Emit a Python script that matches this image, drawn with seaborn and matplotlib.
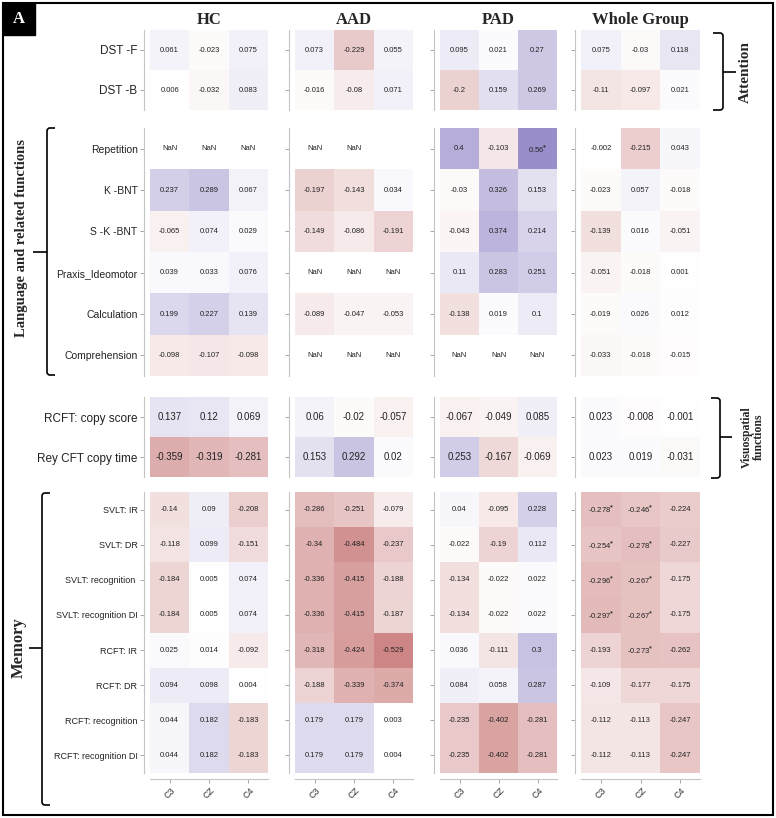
import numpy as np
import pandas as pd
import matplotlib
matplotlib.use("Agg")
import matplotlib.pyplot as plt
import seaborn as sns
from matplotlib.colors import LinearSegmentedColormap
from matplotlib.path import Path
from matplotlib.patches import PathPatch, Rectangle

nan = np.nan

panels = ["HC", "AAD", "PAD", "Whole Group"]
electrodes = ["C3", "CZ", "C4"]

# --- Attention ---
attention_rows = ["DST -F", "DST -B"]
attention_hc = [[0.061, -0.023, 0.075], [0.006, -0.032, 0.083]]
attention_aad = [[0.073, -0.229, 0.055], [-0.016, -0.08, 0.071]]
attention_pad = [[0.095, 0.021, 0.27], [-0.2, 0.159, 0.269]]
attention_wg = [[0.075, -0.03, 0.118], [-0.11, -0.097, 0.021]]

# --- Language and related functions ---
language_rows = ["Repetition", "K -BNT", "S -K -BNT", "Praxis_Ideomotor",
                 "Calculation", "Comprehension"]
language_hc = [[nan, nan, nan], [0.237, 0.289, 0.067], [-0.065, 0.074, 0.029],
               [0.039, 0.033, 0.076], [0.199, 0.227, 0.139], [-0.098, -0.107, -0.098]]
language_aad = [[nan, nan, nan], [-0.197, -0.143, 0.034], [-0.149, -0.086, -0.191],
                [nan, nan, nan], [-0.089, -0.047, -0.053], [nan, nan, nan]]
language_pad = [[0.4, -0.103, 0.56], [-0.03, 0.326, 0.153], [-0.043, 0.374, 0.214],
                [0.11, 0.283, 0.251], [-0.138, 0.019, 0.1], [nan, nan, nan]]
language_wg = [[-0.002, -0.215, 0.043], [-0.023, 0.057, -0.018], [-0.139, 0.016, -0.051],
               [-0.051, -0.018, 0.001], [-0.019, 0.026, 0.012], [-0.033, -0.018, -0.015]]

# --- Visuospatial functions ---
visuo_rows = ["RCFT: copy score", "Rey CFT copy time"]
visuo_hc = [[0.137, 0.12, 0.069], [-0.359, -0.319, -0.281]]
visuo_aad = [[0.06, -0.02, -0.057], [0.153, 0.292, 0.02]]
visuo_pad = [[-0.067, -0.049, 0.085], [0.253, -0.167, -0.069]]
visuo_wg = [[0.023, -0.008, -0.001], [0.023, 0.019, -0.031]]

# --- Memory ---
memory_rows = ["SVLT: IR", "SVLT: DR", "SVLT: recognition ", "SVLT: recognition DI",
               "RCFT: IR", "RCFT: DR", "RCFT: recognition", "RCFT: recognition DI"]
memory_hc = [[-0.14, 0.09, -0.208], [-0.118, 0.099, -0.151], [-0.184, 0.005, 0.074],
             [-0.184, 0.005, 0.074], [0.025, 0.014, -0.092], [0.094, 0.098, 0.004],
             [0.044, 0.182, -0.183], [0.044, 0.182, -0.183]]
memory_aad = [[-0.286, -0.251, -0.079], [-0.34, -0.484, -0.237], [-0.336, -0.415, -0.188],
              [-0.336, -0.415, -0.187], [-0.318, -0.424, -0.529], [-0.188, -0.339, -0.374],
              [0.179, 0.179, 0.003], [0.179, 0.179, 0.004]]
memory_pad = [[0.04, -0.095, 0.228], [-0.022, -0.19, 0.112], [-0.134, -0.022, 0.022],
              [-0.134, -0.022, 0.022], [0.036, -0.111, 0.3], [0.084, 0.058, 0.287],
              [-0.235, -0.402, -0.281], [-0.235, -0.402, -0.281]]
memory_wg = [[-0.278, -0.246, -0.224], [-0.254, -0.278, -0.227], [-0.296, -0.267, -0.175],
             [-0.297, -0.267, -0.175], [-0.193, -0.273, -0.262], [-0.109, -0.177, -0.175],
             [-0.112, -0.113, -0.247], [-0.112, -0.113, -0.247]]

# significant cells (row, col) and cells left blank
stars_pad_language = [(0, 2)]
stars_wg_memory = [(0, 0), (0, 1), (1, 0), (1, 1), (2, 0), (2, 1), (3, 0), (3, 1), (4, 1)]
blank_aad_language = [(0, 2)]

# ------------------------------------------------------------------
W, H = 776, 818
sns.set_style("white")
plt.rcParams["font.family"] = ["Liberation Sans", "DejaVu Sans"]
plt.rcParams["mathtext.default"] = "regular"
SERIF = ["Liberation Serif", "DejaVu Serif"]

fig = plt.figure(figsize=(W / 100, H / 100), dpi=100)
cmap = LinearSegmentedColormap.from_list("rp", ["#a01a18", "#ffffff", "#4a35a0"])


def px_axes(x0, y0, x1, y1):
    return fig.add_axes([x0 / W, 1 - y1 / H, (x1 - x0) / W, (y1 - y0) / H])


panel_x = [(150, 268), (295, 413), (440, 557), (581, 700)]

groups = [
    dict(rows=attention_rows, data=[attention_hc, attention_aad, attention_pad, attention_wg],
         y=(30, 110), lab=8.5, ann=5.5, stars={}, blank={}, xlab=False),
    dict(rows=language_rows, data=[language_hc, language_aad, language_pad, language_wg],
         y=(128, 376), lab=7.5, ann=5.5, stars={2: stars_pad_language},
         blank={1: blank_aad_language}, xlab=False),
    dict(rows=visuo_rows, data=[visuo_hc, visuo_aad, visuo_pad, visuo_wg],
         y=(397, 477), lab=8.5, ann=7, stars={}, blank={}, xlab=False),
    dict(rows=memory_rows, data=[memory_hc, memory_aad, memory_pad, memory_wg],
         y=(492, 773), lab=6.5, ann=5.5, stars={3: stars_wg_memory}, blank={}, xlab=True),
]

for g in groups:
    for p, vals in enumerate(g["data"]):
        df = pd.DataFrame(vals, index=g["rows"], columns=electrodes)
        star_cells = set(g["stars"].get(p, []))
        labels = np.array([[("%g" % v) + (r"$^{\mathbf{*}}$" if (i, j) in star_cells else "")
                            for j, v in enumerate(row)] for i, row in enumerate(vals)])
        x0, x1 = panel_x[p]
        ax = px_axes(x0, g["y"][0], x1, g["y"][1])
        sns.heatmap(df, ax=ax, cmap=cmap, vmin=-1, vmax=1, cbar=False,
                    annot=labels, fmt="",
                    annot_kws=dict(fontsize=g["ann"], color="#222222"))
        blanks = set(g["blank"].get(p, []))
        for i, row in enumerate(vals):
            for j, v in enumerate(row):
                if np.isnan(v) and (i, j) not in blanks:
                    ax.text(j + 0.5, i + 0.5, "NaN", ha="center", va="center",
                            fontsize=g["ann"], color="#222222")
        ax.spines["left"].set_visible(True)
        ax.spines["left"].set_position(("outward", 4))
        ax.spines["left"].set_color("#c4c4c4")
        ax.spines["left"].set_linewidth(0.8)
        ax.tick_params(axis="y", left=True, length=3, width=0.6, color="#999999", pad=2)
        if p == 0:
            ax.set_yticklabels(g["rows"], rotation=0, fontsize=g["lab"], color="#222222")
        else:
            ax.set_yticklabels([])
        if g["xlab"]:
            ax.spines["bottom"].set_visible(True)
            ax.spines["bottom"].set_position(("outward", 4))
            ax.spines["bottom"].set_color("#c4c4c4")
            ax.spines["bottom"].set_linewidth(0.8)
            ax.tick_params(axis="x", bottom=True, length=3, width=0.6, color="#999999", pad=2)
            ax.set_xticklabels(electrodes, rotation=45, fontsize=6.5, color="#333333")
        else:
            ax.set_xticks([])
        ax.set_xlabel("")
        ax.set_ylabel("")

# panel titles
for p, name in enumerate(panels):
    xc = sum(panel_x[p]) / 2
    fig.text(xc / W, 1 - 20 / H, name, ha="center", va="center",
             fontsize=12, fontweight="bold", family=SERIF)


def brace(x, y0, y1, d, ym=None, hook=8, tip=10, r=3):
    ym = (y0 + y1) / 2 if ym is None else ym
    P = lambda a, b: (a / W, 1 - b / H)
    verts = [P(x - d * hook, y0), P(x - d * r, y0), P(x, y0), P(x, y0 + r),
             P(x, y1 - r), P(x, y1), P(x - d * r, y1), P(x - d * hook, y1),
             P(x, ym), P(x + d * tip, ym)]
    codes = [Path.MOVETO, Path.LINETO, Path.CURVE3, Path.CURVE3,
             Path.LINETO, Path.CURVE3, Path.CURVE3, Path.LINETO,
             Path.MOVETO, Path.LINETO]
    fig.add_artist(PathPatch(Path(verts, codes), fill=False, lw=1.2,
                             edgecolor="black", transform=fig.transFigure))


brace(723, 33, 110, 1, ym=72, hook=10, tip=13)
brace(720, 398, 478, 1, ym=437, hook=9, tip=12)
brace(47, 128, 375, -1, ym=252, hook=8, tip=14)
brace(42, 493, 805, -1, ym=648, hook=8, tip=13)

fig.text(745 / W, 1 - 72 / H, "Attention", rotation=90, ha="center", va="center",
         fontsize=11, fontweight="bold", family=SERIF)
fig.text(753 / W, 1 - 437 / H, "Visuospatial\nfunctions", rotation=90, ha="center",
         va="center", fontsize=8.5, fontweight="bold", family=SERIF, linespacing=1.0)
fig.text(22 / W, 1 - 238 / H, "Language and related functions", rotation=90,
         ha="center", va="center", fontsize=10.5, fontweight="bold", family=SERIF)
fig.text(19 / W, 1 - 648 / H, "Memory", rotation=90, ha="center", va="center",
         fontsize=12, fontweight="bold", family=SERIF)

# frame and panel letter
fig.add_artist(Rectangle((2.5 / W, 3 / H), 770 / W, 812 / H, fill=False,
                         lw=1.5, edgecolor="black", transform=fig.transFigure))
fig.add_artist(Rectangle((2.5 / W, 1 - 35 / H), 32 / W, 32 / H, facecolor="black",
                         edgecolor="black", transform=fig.transFigure))
fig.text(18.5 / W, 1 - 19 / H, "A", ha="center", va="center", color="white",
         fontsize=12, fontweight="bold", family=SERIF)

fig.savefig("out.png", dpi=100)
